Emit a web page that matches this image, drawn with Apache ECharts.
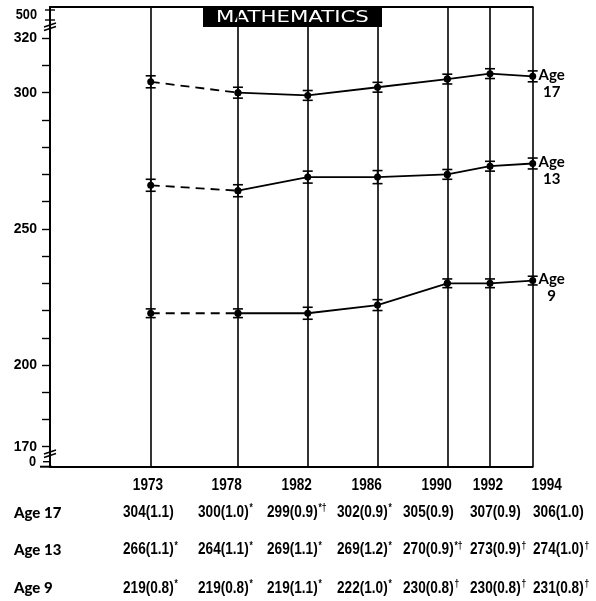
<!DOCTYPE html>
<html>
<head>
<meta charset="utf-8">
<script src="https://cdn.jsdelivr.net/npm/echarts@6/dist/echarts.min.js"></script>
<style>
  html, body { margin: 0; padding: 0; background: #fff; }
  #c { width: 596px; height: 601px; }
</style>
</head>
<body>
<div id="c"></div>
<script>
// ---- data ----
const years = [1973, 1978, 1982, 1986, 1990, 1992, 1994];
const age17 = [304, 300, 299, 302, 305, 307, 306];
const age17se = [1.1, 1.0, 0.9, 0.9, 0.9, 0.9, 1.0];
const age17notes = ['', '*', '*†', '*', '', '', ''];
const age13 = [266, 264, 269, 269, 270, 273, 274];
const age13se = [1.1, 1.1, 1.1, 1.2, 0.9, 0.9, 1.0];
const age13notes = ['*', '*', '*', '*', '*†', '†', '†'];
const age9 = [219, 219, 219, 222, 230, 230, 231];
const age9se = [0.8, 0.8, 1.1, 1.0, 0.8, 0.8, 0.8];
const age9notes = ['*', '*', '*', '*', '†', '†', '†'];
const ageNames = ['Age 17', 'Age 13', 'Age 9'];
const ageShort = ['17', '13', '9'];
const yTickValues = [170, 180, 190, 200, 210, 220, 230, 240, 250, 260, 270, 280, 290, 300, 310, 320];
const yLabelValues = [170, 200, 250, 300, 320];
const breakLabels = ['0', '500'];
const title = 'MATHEMATICS';

// ---- layout ----
const chart = echarts.init(document.getElementById('c'));
const SANS = '"Liberation Sans", Arial, sans-serif';
const groups = [
  { v: age17, se: age17se, notes: age17notes },
  { v: age13, se: age13se, notes: age13notes },
  { v: age9,  se: age9se,  notes: age9notes }
];
const splitIdx = years.indexOf(1990);
const yMin = 162.65, yMax = 331.47;

function pairs(arr, from, to) {
  const out = [];
  for (let i = from; i <= to; i++) out.push([years[i], arr[i]]);
  return out;
}
function ebars(g, from, to) {
  const out = [];
  for (let i = from; i <= to; i++) out.push([years[i], g.v[i], g.se[i]]);
  return out;
}
function renderErr(params, api) {
  const x = api.value(0), y = api.value(1), se = api.value(2);
  const p1 = api.coord([x, y + 2 * se]);
  const p2 = api.coord([x, y - 2 * se]);
  const st = { stroke: '#000', lineWidth: 1.6 };
  return {
    type: 'group',
    children: [
      { type: 'line', shape: { x1: p1[0], y1: p1[1], x2: p2[0], y2: p2[1] }, style: st },
      { type: 'line', shape: { x1: p1[0] - 5, y1: p1[1], x2: p1[0] + 5, y2: p1[1] }, style: st },
      { type: 'line', shape: { x1: p2[0] - 5, y1: p2[1], x2: p2[0] + 5, y2: p2[1] }, style: st }
    ]
  };
}

const series = [];
const lineBase = {
  type: 'line', symbol: 'circle', symbolSize: 7,
  itemStyle: { color: '#000' }, animation: false, silent: true, z: 3
};
groups.forEach((g, gi) => {
  series.push(Object.assign({}, lineBase, {
    xAxisIndex: 0, yAxisIndex: 0,
    data: pairs(g.v, 0, 1),
    lineStyle: { color: '#000', width: 1.8, type: [9, 6] }
  }));
  const s = Object.assign({}, lineBase, {
    xAxisIndex: 0, yAxisIndex: 0,
    data: pairs(g.v, 1, splitIdx),
    lineStyle: { color: '#000', width: 1.8 }
  });
  if (gi === 0) {
    s.markLine = {
      silent: true, symbol: ['none', 'none'], animation: false,
      label: { show: false },
      lineStyle: { color: '#000', width: 1.6, type: 'solid' },
      data: years.slice(0, splitIdx + 1).map(y => ({ xAxis: y }))
    };
  }
  series.push(s);
  const s2 = Object.assign({}, lineBase, {
    xAxisIndex: 1, yAxisIndex: 1,
    data: pairs(g.v, splitIdx, years.length - 1),
    lineStyle: { color: '#000', width: 1.8 },
    endLabel: {
      show: true, formatter: 'Age\n' + ageShort[gi],
      fontFamily: 'Lato, ' + SANS, fontWeight: 'bold', fontSize: 15, lineHeight: 17,
      color: '#000', align: 'center', offset: [11, 7]
    }
  });
  if (gi === 0) {
    s2.markLine = {
      silent: true, symbol: ['none', 'none'], animation: false,
      label: { show: false },
      lineStyle: { color: '#000', width: 1.6, type: 'solid' },
      data: years.slice(splitIdx + 1).map(y => ({ xAxis: y }))
    };
  }
  series.push(s2);
  series.push({
    type: 'custom', xAxisIndex: 0, yAxisIndex: 0, renderItem: renderErr,
    data: ebars(g, 0, splitIdx), animation: false, silent: true, z: 4
  });
  series.push({
    type: 'custom', xAxisIndex: 1, yAxisIndex: 1, renderItem: renderErr,
    data: ebars(g, splitIdx + 1, years.length - 1), animation: false, silent: true, z: 4
  });
});

// ---- graphics: title, breaks, table ----
const graphic = [];
graphic.push({ type: 'line', shape: { x1: 49, y1: 7, x2: 533.5, y2: 7 }, style: { stroke: '#000', lineWidth: 2 } });
graphic.push({ type: 'line', shape: { x1: 40, y1: 466.7, x2: 52, y2: 466.7 }, style: { stroke: '#000', lineWidth: 2 } });
graphic.push({ type: 'rect', shape: { x: 203, y: 8, width: 179, height: 19 }, style: { fill: '#000' } });
graphic.push({
  type: 'text', x: 292.5, y: 18, scaleX: 1.42,
  style: { text: title, fill: '#fff', font: '15px "DejaVu Sans", sans-serif', textAlign: 'center', textVerticalAlign: 'middle' }
});
// break marks and extra labels
[[25, 28.5], [452, 455.5]].forEach(pr => {
  pr.forEach(yy => graphic.push({ type: 'line', shape: { x1: 44, y1: yy + 2, x2: 56, y2: yy - 2 }, style: { stroke: '#000', lineWidth: 1.4 } }));
});
graphic.push({ type: 'line', shape: { x1: 45, y1: 10, x2: 55, y2: 10 }, style: { stroke: '#000', lineWidth: 1.4 } });
graphic.push({ type: 'line', shape: { x1: 45, y1: 20, x2: 55, y2: 20 }, style: { stroke: '#000', lineWidth: 1.4 } });
graphic.push({ type: 'line', shape: { x1: 43, y1: 461.7, x2: 50, y2: 461.7 }, style: { stroke: '#000', lineWidth: 1.4 } });
graphic.push({ type: 'text', x: 36, y: 461.7, scaleX: 0.85, style: { text: breakLabels[0], fill: '#000', font: 'bold 15px ' + SANS, textAlign: 'right', textVerticalAlign: 'middle' } });
graphic.push({ type: 'text', x: 37, y: 15, scaleX: 0.85, style: { text: breakLabels[1], fill: '#000', font: 'bold 15px ' + SANS, textAlign: 'right', textVerticalAlign: 'middle' } });

// table
const headerX = [148, 226.7, 296.7, 366.7, 436.7, 488, 546.7];
const colX = [123, 198, 267, 337, 403, 470, 533];
const rowY = [512.7, 550, 588.3];
years.forEach((yr, i) => {
  graphic.push({ type: 'text', x: headerX[i], y: 485, scaleX: 0.8, style: { text: String(yr), fill: '#000', font: 'bold 17px ' + SANS, textAlign: 'center', textVerticalAlign: 'middle' } });
});
groups.forEach((g, gi) => {
  graphic.push({ type: 'text', x: 14, y: rowY[gi], style: { text: ageNames[gi], fill: '#000', font: '900 15px Lato, ' + SANS, textAlign: 'left', textVerticalAlign: 'middle' } });
  g.v.forEach((v, i) => {
    const main = v + '(' + g.se[i].toFixed(1) + ')';
    const note = g.notes[i];
    graphic.push({
      type: 'text', x: colX[i], y: rowY[gi], scaleX: 0.85,
      style: {
        text: '{n|' + main + '}' + (note ? '{s|' + note + '}' : ''),
        textAlign: 'left', textVerticalAlign: 'middle',
        rich: {
          n: { fontFamily: SANS, fontWeight: 'bold', fontSize: 16, color: '#000', lineHeight: 18 },
          s: { fontFamily: SANS, fontWeight: 'bold', fontSize: 10, color: '#000', verticalAlign: 'top', lineHeight: 18, padding: [0, 0, 0, 1] }
        }
      }
    });
  });
});

const option = {
  backgroundColor: '#fff',
  animation: false,
  grid: [
    { left: 50, top: 7, width: 397.3, height: 459.7 },
    { left: 447.3, top: 7, width: 85.4, height: 459.7 }
  ],
  xAxis: [
    { type: 'value', gridIndex: 0, min: 1967.228, max: 1990,
      axisLine: { show: true, lineStyle: { color: '#000', width: 2 } },
      axisTick: { show: false }, axisLabel: { show: false }, splitLine: { show: false } },
    { type: 'value', gridIndex: 1, min: 1990, max: 1994,
      axisLine: { show: true, lineStyle: { color: '#000', width: 2 } },
      axisTick: { show: false }, axisLabel: { show: false }, splitLine: { show: false } }
  ],
  yAxis: [
    { type: 'value', gridIndex: 0, min: yMin, max: yMax,
      axisLine: { show: true, onZero: false, lineStyle: { color: '#000', width: 2 } },
      axisTick: { show: true, inside: false, length: 8, customValues: yTickValues, lineStyle: { color: '#000', width: 1.4 } },
      axisLabel: { show: true, customValues: yLabelValues, margin: 13, color: '#000', fontFamily: SANS, fontWeight: 'bold', fontSize: 14 },
      splitLine: { show: false } },
    { type: 'value', gridIndex: 1, min: yMin, max: yMax, show: false, splitLine: { show: false } }
  ],
  graphic: graphic,
  series: series
};
chart.setOption(option);
</script>
</body>
</html>
